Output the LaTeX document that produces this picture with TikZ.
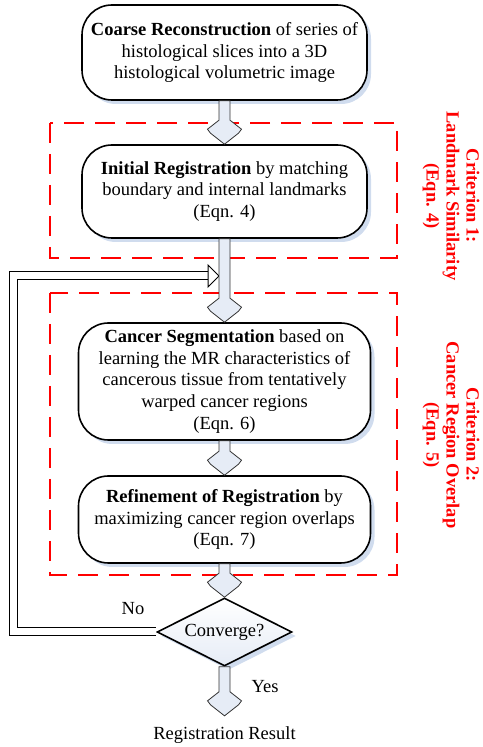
\documentclass[tikz,border=0pt]{standalone}
\usepackage{fontspec}
\setmainfont{Liberation Serif}
\usepackage{tikz}
\usetikzlibrary{shapes.geometric,shadows,calc}

\definecolor{arrowfill}{RGB}{230,236,246}
\definecolor{shadowfill}{RGB}{208,220,238}
\definecolor{critred}{RGB}{255,0,0}

\newcommand{\blockarrow}[2]{%
  \path[draw=black!80, line width=0.8pt, fill=arrowfill, line join=miter]
    let \p1=(#1), \p2=(#2) in
    (\x1-5.5pt,\y1) -- (\x1+5.5pt,\y1) -- (\x1+5.5pt,\y2+24pt) -- (\x1+17pt,\y2+15pt)
    -- (\x1+14pt,\y2+11pt) -- (\x1,\y2) -- (\x1-14pt,\y2+11pt) -- (\x1-17pt,\y2+15pt)
    -- (\x1-5.5pt,\y2+24pt) -- cycle;}

\begin{document}
\begin{tikzpicture}[x=1pt, y=1pt,
  every node/.style={font=\fontsize{18.5}{21.7}\selectfont},
  stage/.style={rounded corners=30pt, draw, line width=1.6pt, fill=white, align=center,
    drop shadow={fill=shadowfill, opacity=1, shadow xshift=4pt, shadow yshift=-4pt}},
  decision/.style={diamond, aspect=2, draw, line width=1.6pt, inner sep=0pt,
    minimum width=135pt, minimum height=68pt, top color=white, bottom color=arrowfill,
    drop shadow={fill=shadowfill, opacity=1, shadow xshift=4pt, shadow yshift=-4pt}},
  critbox/.style={draw=critred, line width=2pt, dash pattern=on 20pt off 11pt},
  critlabel/.style={text=critred, rotate=-90, align=center,
    font=\fontsize{18.5}{20}\selectfont\bfseries},
  loopline/.style={double=white, double distance=7pt, line width=1pt, line join=miter}]
  \useasboundingbox (0,0) rectangle (482,747);

  % criterion regions
  \draw[critbox] (50,624) rectangle (397,489);
  \draw[critbox] (50,454) rectangle (397,172);
  \node[critlabel] (crit1) at (451,551) {Criterion 1:\\ Landmark Similarity\\ (Eqn. 4)};
  \node[critlabel] (crit2) at (451,312) {Criterion 2:\\ Cancer Region Overlap\\ (Eqn. 5)};

  % stages
  \node[stage, minimum width=285pt, minimum height=95pt] (coarse) at (224.5,694.5)
    {\textbf{Coarse Reconstruction} of series of\\ histological slices into a 3D\\ histological volumetric image};
  \node[stage, minimum width=285pt, minimum height=93pt] (init) at (224.5,555.5)
    {\textbf{Initial Registration} by matching\\ boundary and internal landmarks\\ (Eqn. 4)};
  \node[stage, minimum width=292pt, minimum height=117pt] (seg) at (224.5,365.5)
    {\textbf{Cancer Segmentation} based on\\ learning the MR characteristics of\\ cancerous tissue from tentatively\\ warped cancer regions\\ (Eqn. 6)};
  \node[stage, minimum width=292pt, minimum height=87pt] (refine) at (224.5,227.5)
    {\textbf{Refinement of Registration} by\\ maximizing cancer region overlaps\\ (Eqn. 7)};
  \node[decision] (conv) at (224.5,115) {Converge?};
  \node[anchor=base, outer ysep=8pt] (result) at (224.5,7) {Registration Result};
  \node (no) at (133,138) {No};
  \node (yes) at (265,60) {Yes};

  % feedback loop
  \coordinate (fbtip) at (208,471);
  \draw[loopline] (conv.west) -- (13.5,115) |- (fbtip);
  \draw[line width=1pt, fill=white, line join=miter]
    ([yshift=11pt]fbtip) -- ([xshift=11pt]fbtip) -- ([yshift=-11pt]fbtip) -- cycle;

  % main flow
  \blockarrow{coarse.south}{init.north}
  \blockarrow{init.south}{seg.north}
  \blockarrow{seg.south}{refine.north}
  \blockarrow{refine.south}{conv.north}
  \blockarrow{conv.south}{result.north}
\end{tikzpicture}
\end{document}
